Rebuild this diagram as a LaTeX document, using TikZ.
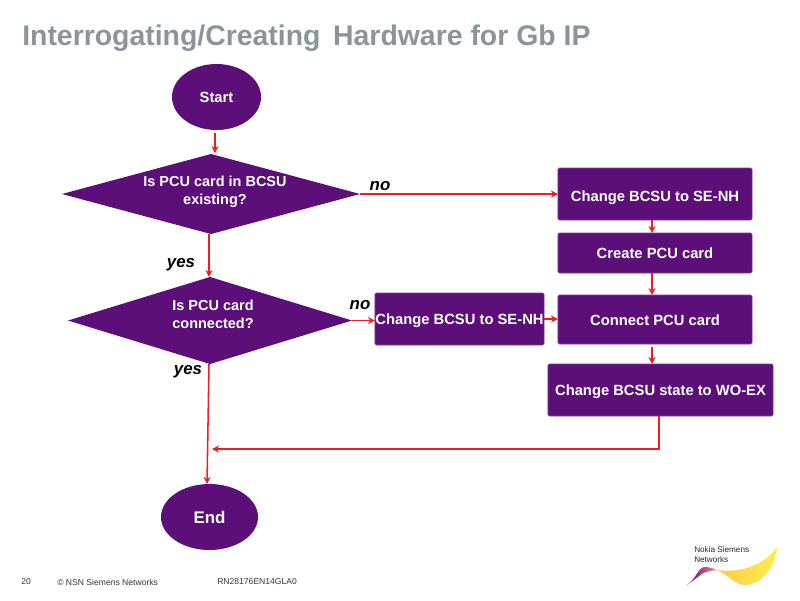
\documentclass[tikz,border=0pt]{standalone}
\usepackage{fontspec}
\setmainfont{Liberation Sans}
\usetikzlibrary{shapes.geometric,arrows.meta}
\definecolor{nsnpurple}{HTML}{5C0F78}
\definecolor{nsnred}{HTML}{EE1C25}
\definecolor{nsngrey}{HTML}{8B949B}
\begin{document}
\begin{tikzpicture}[
  x=0.025cm, y=-0.025cm,
  box/.style={rectangle, rounded corners=1pt, fill=nsnpurple, draw=nsnpurple!80, outer sep=0pt, inner sep=0pt, font=\bfseries\fontsize{10.5}{12}\selectfont, text=white, align=center, minimum width=4.85cm, text height=9.5pt, text depth=1.5pt},
  oval/.style={ellipse, fill=nsnpurple, outer sep=0pt, inner sep=0pt, text=white, font=\bfseries\fontsize{10.5}{12}\selectfont},
  ask/.style={diamond, fill=nsnpurple, outer sep=0pt, inner sep=0pt},
  asktext/.style={inner sep=0pt, text=white, align=center, font=\bfseries\fontsize{10.3}{12.8}\selectfont},
  flow/.style={draw=nsnred, line width=1.1pt, -{Stealth[length=5pt,width=5pt]}},
  tag/.style={font=\bfseries\itshape\fontsize{12}{14}\selectfont},
  foot/.style={font=\fontsize{6.1}{7}\selectfont, text=black!80, anchor=west, inner sep=0pt}
]
\useasboundingbox (0,0) rectangle (800,600);

% Title
\node[anchor=west, inner sep=0pt, text=nsngrey, font=\bfseries\fontsize{20.2}{22}\selectfont] (title) at (22,38) {Interrogating/Creating\, Hardware for Gb IP};

% Left column
\node[oval, minimum width=2.225cm, minimum height=1.65cm] (start) at (216.5,97) {Start};
\node[ask, minimum width=7.45cm, minimum height=2cm] (exist) at (211,194) {};
\node[asktext] (existtext) at (215,192) {Is PCU card in BCSU\\existing?};
\node[ask, minimum width=7.1cm, minimum height=2.175cm] (conn) at (210,320.5) {};
\node[asktext] (conntext) at (213,314) {Is PCU card\\connected?};
\node[oval, minimum width=2.425cm, minimum height=1.65cm, font=\bfseries\fontsize{12}{14}\selectfont] (end) at (209.5,517) {End};

% Right column
\node[box, minimum height=1.3cm, text height=11.5pt] (chgA) at (655,194) {Change BCSU to SE-NH};
\node[box, minimum height=1cm] (create) at (655,253) {Create PCU card};
\node[box, minimum height=1.225cm] (link) at (655,319.5) {Connect PCU card};
\node[box, minimum width=5.625cm, minimum height=1.3cm] (state) at (660.5,390) {Change BCSU state to WO-EX};
\node[box, minimum width=4.225cm, minimum height=1.3cm] (chgB) at (459.5,319) {Change BCSU to SE-NH};

% Helper points for the connectors
\coordinate (spine) at (652,0);
\coordinate (merge) at (212,449);
\coordinate (drop) at (659,416);

% Connectors
\draw[flow] (start.south -| 215,0) ++(0,3) -- (215,153);
\draw[flow] (exist.south -| 209,0) -- (conn.north -| 209,0);
\draw[flow] (conn.south -| 209,0) -- (end.north -| 207,0);
\draw[flow] (exist.east |- chgA.west) -- (chgA.west);
\draw[flow] (conn.east) -- (conn.east -| chgB.west);
\draw[flow] (chgB.east) -- (chgB.east -| link.west);
\draw[flow] (spine |- chgA.south) -- (spine |- create.north);
\draw[flow] (spine |- create.south) -- (spine |- link.north);
\draw[flow] (spine |- link.south) ++(0,3) -- (spine |- state.north);
\draw[flow] (drop) |- (merge);

% Branch labels
\node[tag] (noA) at (380,186) {no};
\node[tag] (noB) at (360,305) {no};
\node[tag] (yesA) at (181,265) {yes};
\node[tag] (yesB) at (188,372) {yes};

% Footer
\node[foot] (page) at (21,582) {20};
\node[foot] (copy) at (57,582) {\textcopyright\ NSN Siemens Networks};
\node[foot] (code) at (217,582) {RN28176EN14GLA0};

% Logo
\node[anchor=west, inner sep=0pt, align=left, font=\fontsize{5.8}{6.6}\selectfont, text=black!85] (logo) at (694,554.5) {Nokia Siemens\\Networks};
\shade[left color=nsnpurple!85!blue, right color=pink!70!red] (687,585) .. controls (697,578) and (698,567) .. (705,567) .. controls (710,567) and (714,569) .. (717,570) .. controls (708,571) and (703,572) .. (698,577) -- cycle;
\shade[left color=orange!60!yellow!70, right color=yellow!80!orange!70] (717,570) .. controls (735,572) and (760,570) .. (777,547) .. controls (775,570) and (760,585) .. (745,585) .. controls (735,585) and (728,575) .. (717,570) -- cycle;

\end{tikzpicture}
\end{document}
